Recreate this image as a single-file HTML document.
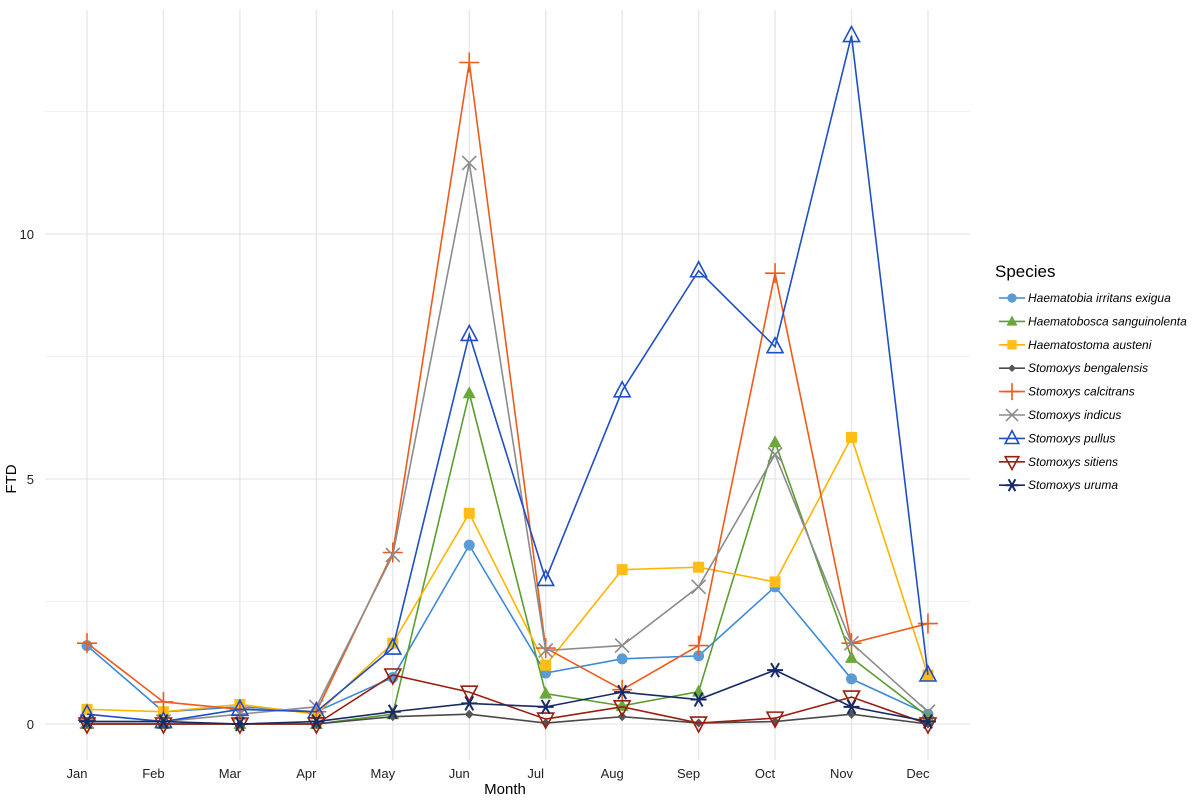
<!DOCTYPE html>
<html><head><meta charset="utf-8"><style>
body{margin:0;background:#fff;font-family:"Liberation Sans",sans-serif}
</style></head><body>
<svg id="chart" width="1200" height="796" xmlns="http://www.w3.org/2000/svg" font-family="Liberation Sans, sans-serif"></svg>
<script>
const months=["Jan","Feb","Mar","Apr","May","Jun","Jul","Aug","Sep","Oct","Nov","Dec"];
const yTicks=[0,5,10];
const yMinor=[2.5,7.5,12.5];
const seriesNames=["Haematobia irritans exigua","Haematobosca sanguinolenta","Haematostoma austeni","Stomoxys bengalensis","Stomoxys calcitrans","Stomoxys indicus","Stomoxys pullus","Stomoxys sitiens","Stomoxys uruma"];
const irritans=[1.6,0.25,0.35,0.25,0.95,3.65,1.04,1.33,1.39,2.8,0.92,0.2];
const sanguinolenta=[0,0,0,0,0.2,6.75,0.62,0.37,0.66,5.75,1.35,0.15];
const austeni=[0.3,0.25,0.4,0.2,1.65,4.3,1.2,3.15,3.2,2.9,5.85,1.0];
const bengalensis=[0,0,0,0,0.15,0.2,0.02,0.15,0.02,0.05,0.2,0];
const calcitrans=[1.65,0.45,0.3,0.25,3.5,13.5,1.55,0.7,1.6,9.2,1.65,2.05];
const indicus=[0.05,0.05,0.2,0.35,3.45,11.45,1.5,1.6,2.8,5.5,1.65,0.25];
const pullus=[0.2,0.05,0.3,0.25,1.55,7.95,2.95,6.8,9.25,7.7,14.05,1.0];
const sitiens=[0,0,0,0,1.0,0.65,0.1,0.35,0.02,0.12,0.55,0];
const uruma=[0.05,0.05,0,0.05,0.25,0.42,0.35,0.65,0.5,1.1,0.35,0.05];
const allSeries=[irritans,sanguinolenta,austeni,bengalensis,calcitrans,indicus,pullus,sitiens,uruma];
const colors=["#3c8ad8","#5a9e2f","#ffb400","#4a4a4a","#f05a1a","#8c8c8c","#1f4fc4","#9a1e0e","#172a66"];
const fills=["#5b9bd5","#6aa83c","#ffbd16","#555555","none","none","none","none","none"];
const shapes=["circle","tri","square","diamond","plus","cross","otri","itri","star"];

const svg=document.getElementById('chart');
const NS="http://www.w3.org/2000/svg";
const X0=87,DX=76.45,Y0=724,PY=49;
const xs=i=>X0+i*DX;
const ys=v=>Y0-v*PY;
function mk(t,a,p){const e=document.createElementNS(NS,t);for(const k in a)e.setAttribute(k,a[k]);(p||svg).appendChild(e);return e;}

yMinor.forEach(v=>{const l=mk('line',{x1:45,x2:970,y1:ys(v),y2:ys(v),stroke:'#f0f0f0','stroke-width':1});

});
yTicks.forEach(v=>{const l=mk('line',{x1:45,x2:970,y1:ys(v),y2:ys(v),stroke:'#e6e6e6','stroke-width':1.3});


const t=mk('text',{x:34,y:ys(v)+5,'text-anchor':'end','font-size':13,fill:'#222'});t.textContent=v;

});
months.forEach((m,i)=>{const l=mk('line',{x1:xs(i),x2:xs(i),y1:10,y2:760,stroke:'#e6e6e6','stroke-width':1.3});


const t=mk('text',{x:xs(i)-10,y:778,'text-anchor':'middle','font-size':13,fill:'#222'});t.textContent=m;

});
let t=mk('text',{x:505,y:794,'text-anchor':'middle','font-size':15,fill:'#000'});t.textContent='Month';


t=mk('text',{x:0,y:0,transform:'translate(16,479) rotate(-90)','text-anchor':'middle','font-size':15,fill:'#000'});t.textContent='FTD';



function marker(g,shape,x,y,c,f,s){
 s=s||1;
 if(shape==='circle')mk('circle',{cx:x,cy:y,r:5.5*s,fill:f},g);
 else if(shape==='tri')mk('polygon',{points:`${x},${y-7*s} ${x-6.5*s},${y+5*s} ${x+6.5*s},${y+5*s}`,fill:f},g);
 else if(shape==='square')mk('rect',{x:x-5.5*s,y:y-5.5*s,width:11*s,height:11*s,fill:f},g);
 else if(shape==='diamond')mk('polygon',{points:`${x},${y-4.5*s} ${x+4.5*s},${y} ${x},${y+4.5*s} ${x-4.5*s},${y}`,fill:f},g);
 else if(shape==='plus')mk('path',{d:`M${x-10*s},${y}H${x+10*s}M${x},${y-10*s}V${y+10*s}`,stroke:c,'stroke-width':1.6,fill:'none'},g);
 else if(shape==='cross')mk('path',{d:`M${x-7*s},${y-7*s}L${x+7*s},${y+7*s}M${x-7*s},${y+7*s}L${x+7*s},${y-7*s}`,stroke:c,'stroke-width':1.6,fill:'none'},g);
 else if(shape==='otri')mk('polygon',{points:`${x},${y-9*s} ${x-8*s},${y+6*s} ${x+8*s},${y+6*s}`,fill:'none',stroke:c,'stroke-width':1.6},g);
 else if(shape==='itri')mk('polygon',{points:`${x},${y+9*s} ${x-8*s},${y-6*s} ${x+8*s},${y-6*s}`,fill:'none',stroke:c,'stroke-width':1.6},g);
 else if(shape==='star')mk('path',{d:`M${x-8*s},${y}H${x+8*s}M${x-4*s},${y-7*s}L${x+4*s},${y+7*s}M${x-4*s},${y+7*s}L${x+4*s},${y-7*s}`,stroke:c,'stroke-width':2,fill:'none'},g);
}

allSeries.forEach((vals,k)=>{
 const g=mk('g',{});
 
 
 const pts=vals.map((v,i)=>xs(i)+','+ys(v)).join(' ');
 const line=mk('polyline',{points:pts,fill:'none',stroke:colors[k],'stroke-width':1.6},g);
 
 
 vals.forEach((v,i)=>marker(g,shapes[k],xs(i),ys(v),colors[k],fills[k]));
});

t=mk('text',{x:995,y:277,'font-size':17,fill:'#000'});t.textContent='Species';


seriesNames.forEach((n,k)=>{
 const y=298+k*23.4;
 const g=mk('g',{});
 
 
 mk('line',{x1:999,x2:1025,y1:y,y2:y,stroke:colors[k],'stroke-width':1.6},g);
 marker(g,shapes[k],1012,y,colors[k],fills[k],0.85);
 const tt=mk('text',{x:1028,y:y+4,'font-size':12,'font-style':'italic',fill:'#000'},g);tt.textContent=n;
});
</script>
</body></html>
